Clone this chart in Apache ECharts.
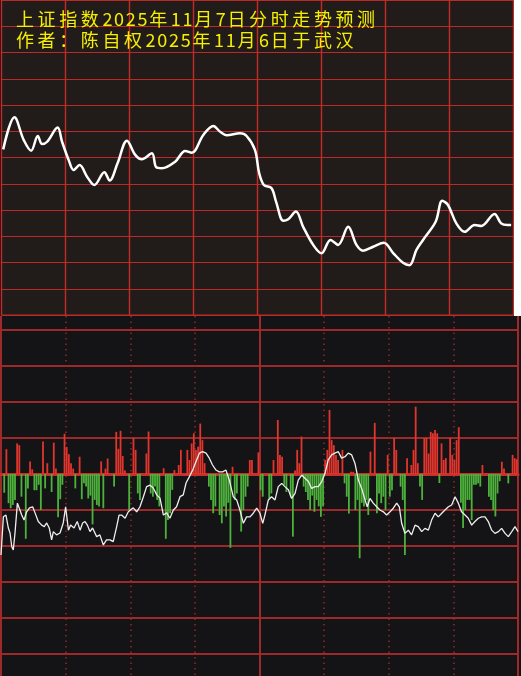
<!DOCTYPE html>
<html>
<head>
<meta charset="utf-8">
<script src="https://cdn.jsdelivr.net/npm/echarts@6/dist/echarts.min.js"></script>
<style>
html,body{margin:0;padding:0;background:#141416;overflow:hidden;width:521px;height:676px;}
#chart{width:521px;height:690px;}
</style>
</head>
<body>
<div id="chart"></div>
<script>
// ---- data ----
const titleLine1 = '上证指数2025年11月7日分时走势预测';
const titleLine2 = '作者：陈自权2025年11月6日于武汉';

// top panel: forecast curve [minute, level]
const forecastLine = [
  [0.8,6.31],[6.1,7.53],[10.4,6.67],[13.9,6.26],[17.0,6.82],[19.0,6.51],[21.4,6.60],
  [26.3,7.14],[28.4,6.60],[31.5,5.90],[33.8,5.52],[36.6,5.71],[40.1,5.27],[43.5,4.95],
  [48.2,5.44],[50.7,5.12],[54.4,5.78],[58.8,6.64],[62.7,6.10],[65.8,5.93],[70.5,6.16],
  [72.5,5.63],[75.2,5.59],[81.4,5.84],[86.1,6.25],[89.2,6.18],[94.6,6.86],[99.3,7.20],
  [102.5,6.98],[105.6,6.85],[111.8,6.92],[114.9,6.82],[118.8,6.29],[120.8,5.40],
  [123.0,4.95],[126.6,4.83],[128.7,4.32],[132.1,3.59],[134.4,3.65],[138.0,3.94],
  [141.4,3.36],[146.1,2.67],[150.0,2.35],[154.2,2.86],[157.8,2.67],[162.5,3.36],
  [166.4,2.67],[169.5,2.45],[174.2,2.60],[179.2,2.75],[183.5,2.37],[188.2,1.99],
  [191.3,1.90],[194.5,2.48],[197.6,2.86],[203.5,3.55],[206.6,4.35],[209.3,4.19],
  [213.2,3.49],[217.1,3.17],[221.8,3.43],[224.9,3.39],[231.1,3.85],[234.2,3.49],
  [237.3,3.43],[238.9,3.43]
];

// bottom panel: per-minute bars (positive red, negative green)
const minuteBars = [
  0,-0.52,0.69,-0.81,-0.95,-0.86,-0.72,0.85,0.80,-0.63,
  0,-1.8,-0.4,0.35,0.13,-0.45,-0.45,-0.3,-1.0,0.9,
  -0.4,0.3,0,-0.5,0.87,0.15,-1.2,-0.7,-0.3,1.12,
  0.75,0.55,0.3,0.15,-0.4,0,0.48,-0.7,-0.26,-0.35,
  -0.68,-0.6,-1.4,-0.72,-0.86,-0.9,0.35,-0.95,0.15,0.43,
  0,0,-0.35,1.17,0.7,1.2,0.5,0.1,0,-1.0,
  0,1.0,0.67,-0.54,-0.72,0,0,0.57,1.18,-0.54,
  -0.63,-0.35,-0.72,-0.9,0,0.16,-1.8,-1.28,-1.09,-0.44,
  0.11,0,0.25,0.67,0,0,0.67,0.39,0.85,1.13,
  0.67,0.76,1.4,0.94,0.3,0,-0.35,-0.72,-1.09,-0.9,
  0,-1.14,-1.37,-0.9,-1.18,-0.8,-2.05,0.2,-0.72,-0.54,
  0,-1.6,-1.0,-0.63,-0.35,0.39,0.39,0,0,0.6,
  -0.45,-0.63,0,0,-0.68,-0.54,0.39,0,1.5,0.53,
  0.48,-0.3,-0.5,0,-0.63,-1.74,0.1,0.67,0.3,1.04,
  -0.35,-0.5,-0.72,-1.0,-0.6,-1.05,-0.72,-0.9,-1.19,-0.9,
  0.39,0.67,1.78,0.94,0.8,0.53,0.39,0,0.67,-0.26,
  -0.63,-1.1,0.06,0.06,-1.0,-0.72,-2.34,-0.8,-0.9,-0.72,
  -1.14,0.62,0,1.42,-1.09,-0.54,-0.81,-0.63,-1.0,0.53,
  -0.63,-0.45,1.0,0.67,0,-0.35,-0.72,-2.25,0.44,0,
  0.25,0.67,1.87,0.3,-0.35,-0.72,1.0,1.0,0.57,1.17,
  1.13,1.22,1.13,-0.25,0.85,0.39,0.44,0,1.0,0.53,
  0.39,0.94,1.3,-0.8,-1.5,-1.0,-0.72,-0.72,-1.28,-0.3,
  -0.3,-0.26,-0.35,0.25,0,0,-0.63,-0.72,-1.0,-1.18,
  -0.54,-0.2,0.34,0.15,0,-0.26,0,0.53,0.44,0.41
];

// bottom panel: white line [minute, level]
const flowLine = [
  [0,-2.25],[0.3,-2.30],[1.1,-1.19],[2.3,-1.14],[3.4,-1.50],[4.2,-1.64],[5.0,-2.02],[5.7,-2.11],
  [6.5,-1.64],[7.6,-0.81],[8.8,-1.0],[9.6,-1.14],[10.7,-1.28],[11.9,-1.05],[13.2,-0.94],
  [14.7,-0.91],[15.8,-1.08],[17.3,-1.32],[18.9,-1.42],[20.1,-1.46],[21.2,-1.36],[22.4,-1.50],
  [23.5,-1.83],[24.3,-1.60],[25.8,-1.69],[27.4,-1.64],[28.9,-1.36],[30.0,-0.91],[31.3,-1.56],
  [32.3,-1.42],[33.9,-1.50],[35.4,-1.32],[36.7,-1.56],[37.9,-1.36],[39.0,-1.32],[40.1,-1.42],
  [41.3,-1.60],[42.5,-1.50],[44.4,-1.74],[45.9,-1.69],[47.5,-1.97],[49.0,-1.83],[50.6,-1.83],
  [52.1,-1.88],[53.7,-1.46],[54.8,-1.14],[56.0,-1.14],[57.6,-1.23],[59.1,-1.05],
  [61.4,-0.94],[63.0,-1.05],[64.5,-0.91],[66.1,-0.63],[67.6,-0.35],[69.2,-0.31],[70.7,-0.39],
  [72.3,-0.58],[73.8,-0.67],[75.4,-1.14],[76.9,-1.08],[78.4,-1.23],[80.0,-1.0],[81.5,-0.91],
  [83.1,-0.63],[84.6,-0.58],[85.9,-0.25],[87.4,-0.08],[89.0,0.11],[90.5,0.34],[92.1,0.58],
  [93.6,0.62],[95.2,0.58],[96.7,0.44],[98.2,0.25],[99.8,0.11],[101.3,0.06],[102.9,0.06],
  [104.4,0.11],[106.0,-0.17],[107.8,-0.63],[109.4,-0.72],[110.9,-1.0],[112.5,-1.37],
  [114.0,-1.19],[115.6,-1.19],[117.1,-1.09],[118.7,-0.95],[120.2,-1.09],
  [121.5,-1.37],[122.5,-1.14],[124.1,-0.72],[125.6,-0.63],[127.2,-0.72],[128.7,-0.35],
  [130.3,-0.26],[131.8,-0.35],[133.4,-0.44],[134.9,-0.68],[136.5,-0.54],[138.0,-0.17],
  [139.6,-0.03],[141.1,-0.12],[142.7,-0.21],[144.2,-0.40],[145.8,-0.35],[147.3,-0.35],
  [148.9,-0.21],[150.4,0.02],[151.9,0.39],[153.5,0.53],[155.0,0.58],[156.6,0.62],
  [158.1,0.44],[159.7,0.48],[161.2,0.58],[162.8,0.53],[164.3,0.30],[165.9,-0.17],
  [167.4,-0.40],[169.0,-0.72],[170.0,-0.91],[171.3,-0.68],[172.8,-0.81],[174.4,-0.91],
  [175.9,-1.0],[177.5,-1.05],[179.0,-1.14],[180.6,-1.05],
  [182.1,-0.95],[183.7,-0.81],[184.9,-0.91],[186.0,-1.37],[187.5,-1.65],[189.1,-1.56],
  [190.6,-1.69],[192.2,-1.42],[193.7,-1.46],[195.3,-1.60],[196.8,-1.51],[198.4,-1.56],
  [199.9,-1.28],[201.5,-1.09],[203.0,-1.19],[204.6,-1.09],[206.1,-1.0],[207.7,-0.91],
  [209.2,-0.86],[210.8,-0.63],[212.3,-0.81],[213.8,-1.05],[215.4,-1.14],[216.9,-1.23],
  [218.5,-1.42],[220.0,-1.32],[221.6,-1.23],[223.1,-1.19],[224.7,-1.19],[226.2,-1.32],
  [227.8,-1.56],[229.3,-1.65],[230.9,-1.60],[232.4,-1.51],[234.0,-1.65],[235.5,-1.74],
  [237.1,-1.60],[238.6,-1.46],[240,-1.60]
];

// ---- chart ----
const YELLOW = '#f7ef00';
function richify(s){
  return s.split('').map(ch => /[0-9]/.test(ch) ? '{d|' + ch + '}' : '{c|' + ch + '}').join('');
}
const richStyle = {
  c: {width: 21.6, fontSize: 18, fontWeight: 'normal', color: YELLOW, fontFamily: 'Noto Sans CJK SC', lineHeight: 20},
  d: {width: 11.7, fontSize: 18, fontWeight: 'normal', color: YELLOW, fontFamily: 'Noto Sans CJK SC', lineHeight: 20}
};

const TOPLINE = '#bc2a27';
const BOTLINE = '#9c2a2a';

const chart = echarts.init(document.getElementById('chart'), null, {renderer: 'canvas', width: 521, height: 690});
chart.setOption({
  backgroundColor: '#141416',
  animation: false,
  title: [
    {text: richify(titleLine1), left: 16, top: 9, padding: 0, z: 20, textStyle: {fontWeight: 'normal', rich: richStyle}},
    {text: richify(titleLine2), left: 16, top: 30, padding: 0, z: 20, textStyle: {fontWeight: 'normal', rich: richStyle}}
  ],
  grid: [
    {left: 1.5, top: 0, width: 512, height: 315, show: true, backgroundColor: '#211c1a',
     borderColor: TOPLINE, borderWidth: 1, containLabel: false},
    {left: 1, top: 316, width: 517, height: 374, show: false, containLabel: false}
  ],
  xAxis: [
    {type: 'value', gridIndex: 0, min: 0, max: 240, interval: 30,
     axisLine: {show: false}, axisTick: {show: false}, axisLabel: {show: false},
     splitLine: {show: true, lineStyle: {color: '#c42b27', width: 1.4}}},
    {type: 'value', gridIndex: 1, min: 0, max: 240, interval: 30,
     axisLine: {show: true, onZero: true, lineStyle: {color: '#c9302b', width: 3}},
     axisTick: {show: false}, axisLabel: {show: false},
     splitLine: {show: true, lineStyle: {color: '#8e2a2a', width: 1.5, type: [1.5, 4]}}},
    {type: 'value', gridIndex: 1, min: 0, max: 240, interval: 120, position: 'top',
     axisLine: {show: false}, axisTick: {show: false}, axisLabel: {show: false},
     splitLine: {show: true, lineStyle: {color: BOTLINE, width: 2}}}
  ],
  yAxis: [
    {type: 'value', gridIndex: 0, min: 0, max: 12, interval: 1,
     axisLine: {show: false}, axisTick: {show: false}, axisLabel: {show: false},
     splitLine: {show: true, lineStyle: {color: TOPLINE, width: 1.1}}},
    {type: 'value', gridIndex: 1, min: -6, max: (474 - 316) / 36, interval: 1,
     axisLine: {show: false}, axisTick: {show: false}, axisLabel: {show: false},
     splitLine: {show: true, showMaxLine: false, lineStyle: {color: BOTLINE, width: 2}}}
  ],
  graphic: [
    {type: 'rect', shape: {x: 514, y: 0, width: 7, height: 316}, style: {fill: '#ffffff'}, z: 100}
  ],
  series: [
    {type: 'line', xAxisIndex: 0, yAxisIndex: 0, data: forecastLine, smooth: 0.35,
     symbol: 'none', lineStyle: {color: '#ffffff', width: 2.5}, z: 5},
    {type: 'bar', xAxisIndex: 1, yAxisIndex: 1, barWidth: 1.8,
     data: minuteBars.map((v, i) => [i + 0.5, v]),
     itemStyle: {color: p => p.value[1] >= 0 ? '#e2352e' : '#4db23c'}, z: 3},
    {type: 'line', xAxisIndex: 1, yAxisIndex: 1, data: flowLine, symbol: 'none',
     lineStyle: {color: '#eeeeee', width: 1.3}, z: 4}
  ]
});
</script>
</body>
</html>
